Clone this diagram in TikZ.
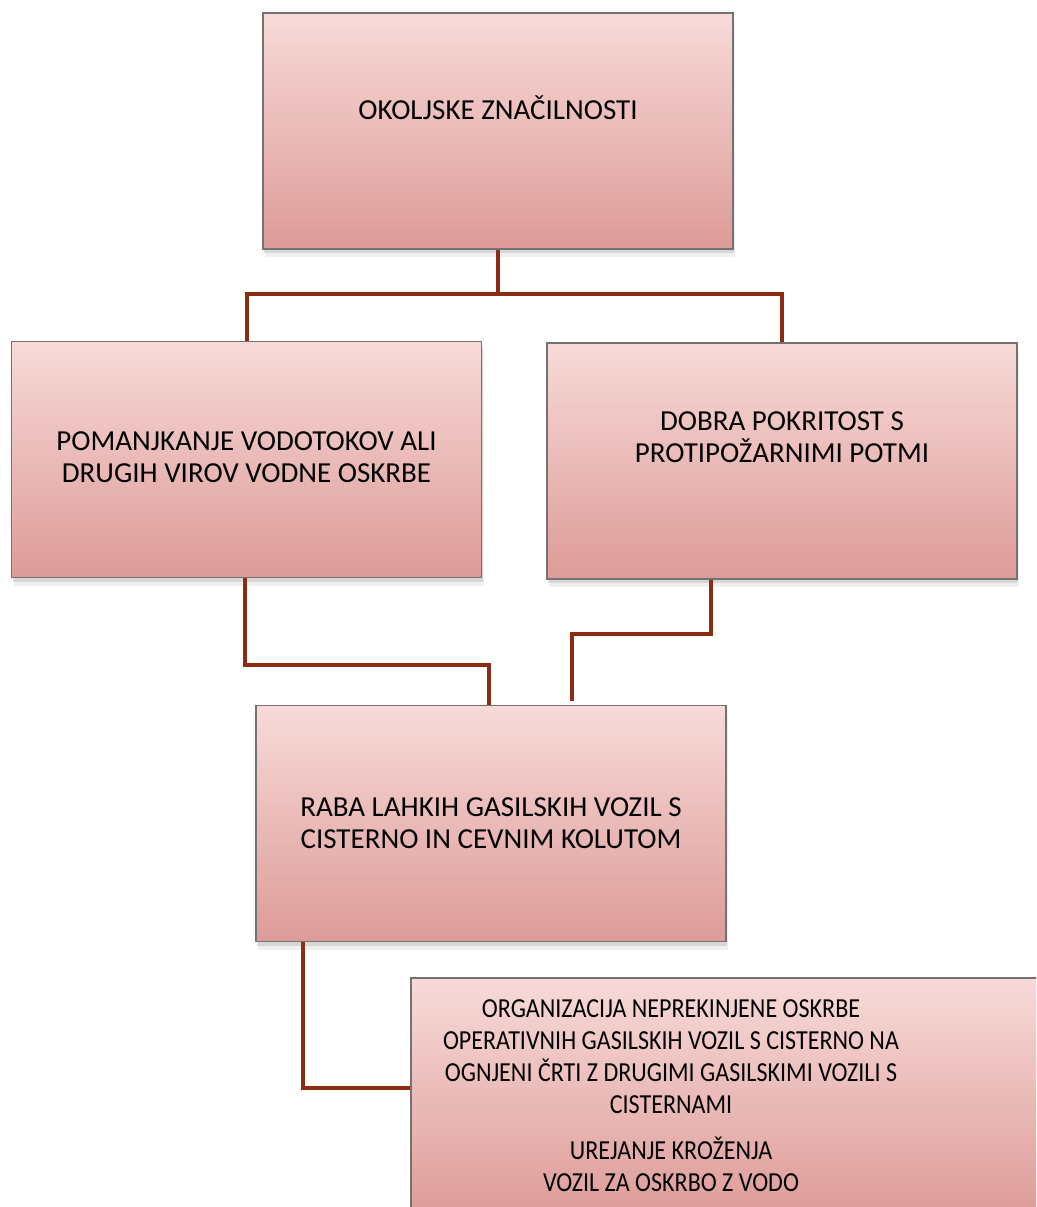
\documentclass[tikz,border=0pt]{standalone}
\usepackage{fontspec}
\setmainfont{Carlito}
\usetikzlibrary{shadows}
\definecolor{boxtop}{HTML}{F7DAD8}
\definecolor{boxbot}{HTML}{DD9B98}
\definecolor{linkred}{HTML}{8E2B13}
\tikzset{
  box/.style={draw=gray!90!black, line width=1.2pt, top color=boxtop, bottom color=boxbot,
    minimum width=470pt, minimum height=236pt, inner sep=0pt,
    drop shadow={shadow xshift=1pt,shadow yshift=-4pt,opacity=.22},
    drop shadow={shadow xshift=2pt,shadow yshift=-8pt,opacity=.12}},
  txt/.style={align=center, font=\fontsize{29}{32}\selectfont},
  smalltxt/.style={align=center, font=\fontsize{27.5}{32}\selectfont\addfontfeatures{FakeStretch=0.875}},
  link/.style={draw=linkred, line width=4pt}
}

\begin{document}
\begin{tikzpicture}[x=1pt,y=-1pt]
  \useasboundingbox (0,0) rectangle (1036,1207);
  \clip (0,0) rectangle (1036,1207);
  % boxes
  \node[box] (a) at (498,131) {};
  \node[box] (b) at (246.5,459.5) {};
  \node[box] (c) at (782,461) {};
  \node[box] (d) at (491,823.5) {};
  \node[box,minimum width=700pt,minimum height=240pt] (e) at (761,1098) {};
  % texts
  \node[txt] (ta) at ([yshift=23pt]a.center) {OKOLJSKE ZNAČILNOSTI};
  \node[txt] (tb) at ([yshift=2pt]b.center) {POMANJKANJE VODOTOKOV ALI\\DRUGIH VIROV VODNE OSKRBE};
  \node[txt] (tc) at ([yshift=24pt]c.center) {DOBRA POKRITOST S\\PROTIPOŽARNIMI POTMI};
  \node[txt] (td) at (d.center) {RABA LAHKIH GASILSKIH VOZIL S\\CISTERNO IN CEVNIM KOLUTOM};
  \node[smalltxt] (te) at ([xshift=-90pt,yshift=2pt]e.center) {ORGANIZACIJA NEPREKINJENE OSKRBE\\
    OPERATIVNIH GASILSKIH VOZIL S CISTERNO NA\\OGNJENI ČRTI Z DRUGIMI GASILSKIMI VOZILI S\\
    CISTERNAMI\\[14pt]UREJANJE KROŽENJA\\VOZIL ZA OSKRBO Z VODO};
  % connectors
  \draw[link] (a.south) -- ++(0,44) coordinate (ja) -| (b.north);
  \draw[link] (ja) -| (c.north);
  \draw[link] ([xshift=-2pt]b.south) -- ++(0,87) -| ([xshift=-2pt]d.north);
  \draw[link,shorten >=4pt] ([xshift=-71pt]c.south) -- ++(0,54) -| ([xshift=81pt]d.north);
  \draw[link] ([xshift=-188pt]d.south) |- ([yshift=10pt]e.west);
\end{tikzpicture}
\end{document}
